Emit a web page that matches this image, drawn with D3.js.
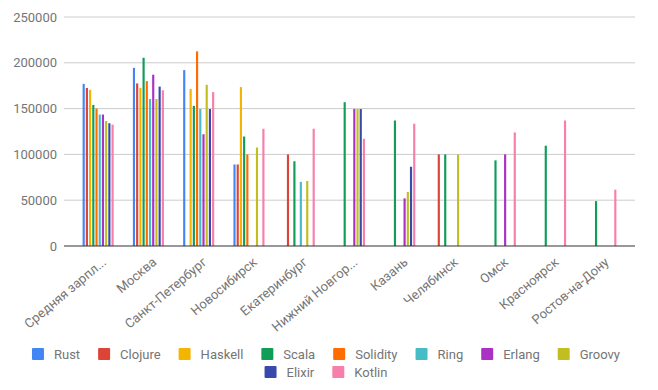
<!DOCTYPE html>
<html><head><meta charset="utf-8">
<script src="https://cdn.jsdelivr.net/npm/d3@7"></script>
<style>
body{margin:0;background:#fff;}
text{font-family:Roboto,"Noto Sans",sans-serif;}
</style></head>
<body>
<svg id="chart" width="658" height="390"></svg>
<script>
const categories = ["Средняя зарпл...","Москва","Санкт-Петербург","Новосибирск","Екатеринбург","Нижний Новгор...","Казань","Челябинск","Омск","Красноярск","Ростов-на-Дону"];
const seriesNames = ["Rust","Clojure","Haskell","Scala","Solidity","Ring","Erlang","Groovy","Elixir","Kotlin"];
const colors = ["#4285F4","#DB4437","#F4B400","#0F9D58","#FF6D00","#46BDC6","#AB30C4","#C2BE1F","#3949AB","#F77FAB"];
// values per series, one per category (null = no bar)
const rust     = [177000,194500,192000, 89000,  null,  null,  null,  null,  null,  null,  null];
const clojure  = [172500,177500,  null, 89000,100000,  null,  null,100000,  null,  null,  null];
const haskell  = [170500,172500,171500,173500,  null,  null,  null,  null,  null,  null,  null];
const scala    = [154000,205500,153000,119500, 92500,157000,137000,100000, 93500,109500, 49000];
const solidity = [150000,180000,212500,100000,  null,  null,  null,  null,  null,  null,  null];
const ring     = [143500,160500,149500,  null, 70000,  null,  null,  null,  null,  null,  null];
const erlang   = [143500,187000,122000,  null,  null,149500, 52000,  null,100000,  null,  null];
const groovy   = [136500,160500,176000,107500, 71000,149500, 59000,100000,  null,  null,  null];
const elixir   = [134000,174000,149500,  null,  null,149500, 86500,  null,  null,  null,  null];
const kotlin   = [132500,170000,168000,128000,128000,117000,133500,  null,124000,137000, 61500];
const seriesValues = [rust,clojure,haskell,scala,solidity,ring,erlang,groovy,elixir,kotlin];
const yTicks = [0,50000,100000,150000,200000,250000];

const svg = d3.select("#chart");
const plotLeft = 64, plotRight = 635, plotTop = 17, plotBottom = 246;

const x = d3.scaleBand().domain(categories).range([73, 626]).paddingInner(0.382).paddingOuter(0.191);
const xs = d3.scaleBand().domain(seriesNames).range([0, x.bandwidth()]).paddingInner(0.33);
const y = d3.scaleLinear().domain([0, 250000]).range([plotBottom, plotTop]);

// gridlines
svg.append("g").selectAll("line").data(yTicks.filter(d=>d>0)).join("line")
  .attr("x1", plotLeft).attr("x2", plotRight)
  .attr("y1", d=>y(d)).attr("y2", d=>y(d))
  .attr("stroke", "#cccccc").attr("stroke-width", 1);

// y axis labels
const yAxis = d3.axisLeft(y).tickValues(yTicks).tickSize(0).tickPadding(7).tickFormat(d3.format("d"));
const ya = svg.append("g").attr("transform", `translate(${plotLeft},0)`).call(yAxis);
ya.select(".domain").remove();
ya.selectAll("text").attr("fill", "#757575").style("font-size", "13px").style("font-family", "Roboto");

// bars
const groups = svg.append("g").selectAll("g").data(categories).join("g")
  .attr("transform", d => `translate(${x(d)},0)`);
groups.selectAll("rect").data((c, ci) => seriesNames.map((s, si) => ({s, si, v: seriesValues[si][ci]})).filter(d => d.v != null))
  .join("rect")
  .attr("x", d => xs(d.s))
  .attr("width", xs.bandwidth())
  .attr("y", d => y(d.v))
  .attr("height", d => y(0) - y(d.v))
  .attr("fill", d => colors[d.si]);

// baseline
svg.append("line").attr("x1", plotLeft).attr("x2", plotRight).attr("y1", y(0)).attr("y2", y(0))
  .attr("stroke", "#333").attr("stroke-width", 1.2);

// x labels
const xAxis = d3.axisBottom(x).tickSize(0).tickPadding(0);
const xa = svg.append("g").attr("transform", `translate(0,${plotBottom})`).call(xAxis);
xa.select(".domain").remove();
xa.selectAll("text")
  .attr("fill", "#757575").style("font-size", "13px").style("font-family", "Roboto")
  .attr("text-anchor", "end")
  .attr("transform", "translate(6,14) rotate(-40)")
  .attr("x", 0).attr("y", 0).attr("dy", "0.35em");

// legend
const row1 = seriesNames.slice(0, 8), row2 = seriesNames.slice(8);
const measure = svg.append("text").style("font-size", "13px").style("font-family", "Roboto");
function textW(t){ measure.text(t); return measure.node().getComputedTextLength(); }
const sq = 12, gapSqText = 10, itemGap = 18;
function drawRow(names, cy){
  const widths = names.map(n => sq + gapSqText + textW(n));
  const total = d3.sum(widths) + itemGap * (names.length - 1);
  let cx = (658 - total) / 2 - 3;
  const g = svg.append("g");
  names.forEach((n, i) => {
    const si = seriesNames.indexOf(n);
    g.append("rect").attr("x", cx).attr("y", cy - sq/2).attr("width", sq).attr("height", sq).attr("rx", 1).attr("fill", colors[si]);
    g.append("text").attr("x", cx + sq + gapSqText).attr("y", cy).attr("dy", "0.35em")
      .attr("fill", "#757575").style("font-size", "13px").style("font-family", "Roboto").text(n);
    cx += widths[i] + itemGap;
  });
}
drawRow(row1, 354);
drawRow(row2, 372);
measure.remove();
</script>
</body></html>
